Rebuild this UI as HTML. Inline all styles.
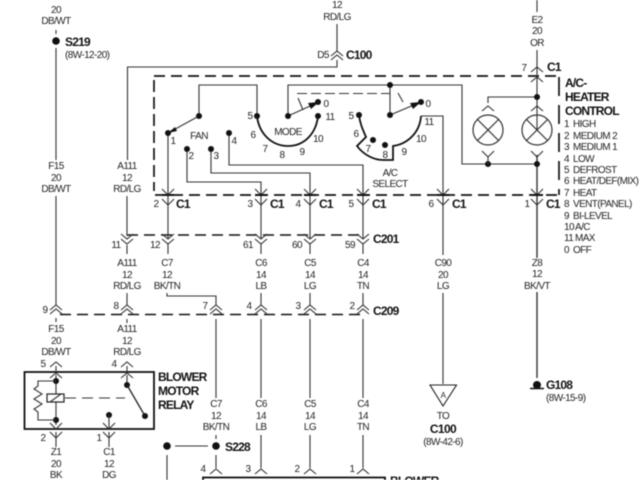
<!DOCTYPE html>
<html><head><meta charset="utf-8"><style>
html,body{margin:0;padding:0;background:#fff;width:640px;height:480px;overflow:hidden}
svg{display:block;filter:blur(.4px)}
text{font-family:"Liberation Sans",sans-serif;font-size:10px;fill:#222;text-anchor:middle;letter-spacing:-.6px}
.b{font-weight:bold;font-size:12px;text-anchor:start;fill:#111;letter-spacing:-.8px}
.l{text-anchor:start}
.w{fill:none;stroke:#333;stroke-width:1.1}
.t{fill:none;stroke:#111;stroke-width:1.8}
.d{fill:none;stroke:#111;stroke-width:1.7;stroke-dasharray:11 6}
circle{fill:#111}
</style></head><body>
<svg width="640" height="480" viewBox="0 0 640 480" xmlns="http://www.w3.org/2000/svg">
<defs>
<path id="up" d="M-6 5L0 0L6 5" fill="none" stroke="#333" stroke-width="1.1"/>
<path id="dn" d="M-6 -4L0 2L6 -4" fill="none" stroke="#333" stroke-width="1.1"/>
<path id="dup" d="M-6 4L0 -1L6 4M-6 8L0 3L6 8" fill="none" stroke="#333" stroke-width="1.1"/>
<path id="ddn" d="M-6 -3L0 2L6 -3M-6 2L0 7L6 2" fill="none" stroke="#333" stroke-width="1.1"/>
</defs>

<!-- dashed frames -->
<path class="d" d="M154 76H560"/>
<path class="d" d="M154 80V191" style="stroke-dasharray:12 5"/>
<path class="d" d="M155 195H560"/>
<path class="d" d="M559 77V195" style="stroke-dasharray:19 9"/>
<path class="d" d="M127 235H364" style="stroke-dasharray:11 6;stroke-width:1.4"/>
<path class="d" d="M60 314.5H362" style="stroke-dasharray:11 6;stroke-width:1.4"/>

<!-- main wires -->
<path class="w" d="M56 30V34M56 48V160M56 196V305M56 318V322"/>
<path class="w" d="M337 24V52M337 60V67H127.500V160M127 196V236M127 245V254M127 293V305M127 319V323"/>
<path class="w" d="M199 116V85H257V116M199 116L168 133"/>
<path class="w" d="M168 133V238M168 243V254"/>
<path class="w" d="M187 149V182H261V238M261 243V254M261 293V305M261 319V398M261 435V468"/>
<path class="w" d="M211 149V173H310V238M310 243V254M310 293V305M310 319V398M310 435V468"/>
<path class="w" d="M229 133V165H363V238M363 243V254M363 293V305M363 319V398M363 435V468"/>
<path class="w" d="M167 293V296H216V305M216 319V398M216 435V439M216 455V468"/>
<path class="w" d="M288 116V85H462V164H537M390 85V115L421 102M288 116L319 102"/>
<path class="w" d="M421 116H443V255M443 293V384"/>
<path class="w" d="M537 0V12M537 50V130M537 97H488V103"/>
<path class="w" d="M537 155V258M537 292V378" style="stroke-width:1.4"/>
<path class="w" d="M175 446H208M167 455V480"/>

<!-- heavy contact paths -->
<path class="t" d="M257 116C259 134 272 146 288 146C304 146 316 134 318 116"/>
<path class="t" d="M359 115C360 124 363 130 366 137L357 146C363 154 373 160 383 160H393V146C408 144 420 132 421 116"/>
<path class="w" d="M298 98L303 110M398 93L403 102"/>
<path class="w" d="M297 93.500H390" style="stroke-dasharray:10 4"/>

<!-- arrowheads -->
<path d="M319 102L308 103L311 109Z M421 102L410 103L413 109Z M168 133L175 127L177 131Z" fill="#111"/>

<!-- dots -->
<circle cx="56" cy="41" r="3.800"/>
<circle cx="199" cy="116" r="3"/><circle cx="168" cy="133" r="3"/>
<circle cx="187" cy="149" r="3"/><circle cx="211" cy="149" r="3"/>
<circle cx="229" cy="133" r="3"/><circle cx="257" cy="116" r="3"/>
<circle cx="288" cy="116" r="3"/><circle cx="318" cy="102" r="3"/>
<circle cx="318" cy="116" r="3"/><circle cx="359" cy="115" r="3"/>
<circle cx="373" cy="140" r="3"/><circle cx="385" cy="145" r="3"/>
<circle cx="390" cy="85" r="3"/><circle cx="390" cy="115" r="3"/>
<circle cx="421" cy="102" r="3"/><circle cx="488" cy="164" r="3"/>
<circle cx="537" cy="164" r="3"/><circle cx="537" cy="97" r="3"/>
<circle cx="216" cy="446" r="3.800"/><circle cx="167" cy="446" r="3.800"/>
<circle cx="537" cy="385" r="4"/>
<path d="M530 388.500H544" stroke="#111" stroke-width="1.500"/>

<!-- lamps -->
<g fill="none" stroke="#333" stroke-width="1.200">
<circle cx="488" cy="130" r="15" style="fill:none"/><circle cx="537" cy="130" r="15" style="fill:none"/>
<path d="M477.500 119.500L498.500 140.500M498.500 119.500L477.500 140.500M526.500 119.500L547.500 140.500M547.500 119.500L526.500 140.500"/>
</g>
<use href="#up" x="488" y="106"/><use href="#up" x="537" y="106"/>
<use href="#dn" x="488" y="155"/><use href="#dn" x="537" y="155"/>
<path class="w" d="M488 157V164"/>

<!-- connector marks -->
<use href="#up" x="337" y="51"/><use href="#up" x="337" y="55"/>
<use href="#up" x="537" y="67"/><use href="#up" x="537" y="77"/>
<use href="#dn" x="168" y="193"/><use href="#dn" x="261" y="193"/><use href="#dn" x="310" y="193"/><use href="#dn" x="363" y="193"/><use href="#dn" x="443" y="193"/><use href="#dn" x="537" y="193"/>
<use href="#dn" x="168" y="203"/><use href="#dn" x="261" y="203"/><use href="#dn" x="310" y="203"/><use href="#dn" x="363" y="203"/><use href="#dn" x="443" y="203"/><use href="#dn" x="537" y="203"/>
<path d="M162 195H174M255 195H267M304 195H316M357 195H369M437 195H449M531 195H543" stroke="#111" stroke-width="2"/>
<use href="#ddn" x="127" y="237"/><use href="#ddn" x="168" y="237"/><use href="#ddn" x="261" y="237"/><use href="#ddn" x="310" y="237"/><use href="#ddn" x="363" y="237"/>
<use href="#dup" x="56" y="306"/><use href="#dup" x="127" y="306"/><use href="#dup" x="216" y="306"/><use href="#dup" x="261" y="306"/><use href="#dup" x="310" y="306"/><use href="#dup" x="363" y="306"/>
<use href="#up" x="216" y="469"/><use href="#up" x="261" y="469"/><use href="#up" x="310" y="469"/><use href="#up" x="363" y="469"/>

<!-- relay -->
<rect x="24.500" y="372" width="129.500" height="57" fill="none" stroke="#111" stroke-width="1.800"/>
<use href="#up" x="56" y="362"/><use href="#up" x="127" y="362"/>
<use href="#up" x="56" y="373"/><use href="#up" x="127" y="373"/>
<path class="w" d="M56 366V372M127 366V372M56 375V394M56 402V425M127 375V385"/>
<circle cx="56" cy="381" r="3"/><circle cx="56" cy="420" r="3"/>
<circle cx="127" cy="385" r="3"/><circle cx="145" cy="416" r="3"/><circle cx="109" cy="415" r="3"/>
<path class="w" d="M56 381H38V386L34 389L42 394L34 399L42 404L34 409L38 412V420H56"/>
<rect x="47" y="394" width="17" height="8" fill="none" stroke="#222" stroke-width="1.200"/>
<path class="w" d="M50 402L61 394"/>
<path class="w" d="M65 398H125" style="stroke-dasharray:11 6"/>
<path d="M127 385L145 416" stroke="#222" stroke-width="1.300"/>
<path class="w" d="M109 415V429M56 432V447M109 432V447"/>
<use href="#dn" x="56" y="427"/><use href="#dn" x="109" y="427"/>
<use href="#dn" x="56" y="436"/><use href="#dn" x="109" y="436"/>

<!-- blower motor -->
<rect x="203" y="477.500" width="182" height="10" fill="none" stroke="#111" stroke-width="1.800"/>

<!-- triangle -->
<path d="M430 385H456.500L443 406Z" fill="#fff" stroke="#222" stroke-width="1.100"/>

<!-- wire labels -->
<text x="56" y="13">20</text><text x="56" y="24">DB/WT</text>
<text x="56" y="169">F15</text><text x="56" y="181">20</text><text x="56" y="192">DB/WT</text>
<text x="127" y="169">A111</text><text x="127" y="181">12</text><text x="127" y="192">RD/LG</text>
<text x="337" y="8">12</text><text x="337" y="20">RD/LG</text>
<text x="537" y="23">E2</text><text x="537" y="34">20</text><text x="537" y="46">OR</text>
<text x="127" y="266">A111</text><text x="127" y="278">12</text><text x="127" y="289">RD/LG</text>
<text x="167" y="266">C7</text><text x="167" y="278">12</text><text x="167" y="289">BK/TN</text>
<text x="261" y="266">C6</text><text x="261" y="278">14</text><text x="261" y="289">LB</text>
<text x="310" y="266">C5</text><text x="310" y="278">14</text><text x="310" y="289">LG</text>
<text x="363" y="266">C4</text><text x="363" y="278">14</text><text x="363" y="289">TN</text>
<text x="443" y="266">C90</text><text x="443" y="278">20</text><text x="443" y="289">LG</text>
<text x="537" y="266">Z8</text><text x="537" y="277">12</text><text x="537" y="289">BK/VT</text>
<text x="56" y="332">F15</text><text x="56" y="344">20</text><text x="56" y="355">DB/WT</text>
<text x="127" y="332">A111</text><text x="127" y="344">12</text><text x="127" y="355">RD/LG</text>
<text x="216" y="407">C7</text><text x="216" y="419">12</text><text x="216" y="430">BK/TN</text>
<text x="261" y="407">C6</text><text x="261" y="419">14</text><text x="261" y="430">LB</text>
<text x="310" y="407">C5</text><text x="310" y="419">14</text><text x="310" y="430">LG</text>
<text x="363" y="407">C4</text><text x="363" y="419">14</text><text x="363" y="430">TN</text>
<text x="56" y="455">Z1</text><text x="56" y="467">20</text><text x="56" y="478">BK</text>
<text x="109" y="455">C1</text><text x="109" y="467">12</text><text x="109" y="478">DG</text>
<text x="323" y="58">D5</text>

<!-- bold labels -->
<text class="b" x="65" y="46">S219</text>
<text x="65" y="58" class="l">(8W-12-20)</text>
<text class="b" x="346" y="59">C100</text>
<text class="b" x="547" y="71">C1</text>
<text class="b" x="565" y="87">A/C-</text>
<text class="b" x="565" y="101">HEATER</text>
<text class="b" x="565" y="115">CONTROL</text>
<text class="b" x="176" y="208">C1</text><text class="b" x="270" y="208">C1</text><text class="b" x="319" y="208">C1</text><text class="b" x="372" y="208">C1</text><text class="b" x="452" y="208">C1</text><text class="b" x="546" y="208">C1</text>
<text class="b" x="373" y="243">C201</text>
<text class="b" x="373" y="315">C209</text>
<text class="b" x="158" y="381">BLOWER</text><text class="b" x="158" y="395">MOTOR</text><text class="b" x="158" y="409">RELAY</text>
<text class="b" x="225" y="451">S228</text>
<text class="b" x="390" y="485">BLOWER</text>
<text class="b" x="546" y="389">G108</text>
<text x="546" y="401" class="l">(8W-15-9)</text>
<text x="443" y="398" style="font-size:8px">A</text>
<text x="443" y="419">TO</text>
<text x="443" y="433" style="font-size:12px;font-weight:bold;fill:#111">C100</text>
<text x="443" y="445">(8W-42-6)</text>

<!-- switch numbers -->
<text x="173" y="144">1</text><text x="191" y="159">2</text><text x="216" y="159">3</text><text x="234" y="144">4</text>
<text x="199" y="139">FAN</text><text x="288" y="135">MODE</text>
<text x="250" y="119">5</text><text x="253" y="138">6</text><text x="265" y="152">7</text><text x="282" y="158">8</text><text x="302" y="155">9</text><text x="318" y="142">10</text><text x="330" y="120">11</text><text x="326" y="107">0</text>
<text x="351" y="119">5</text><text x="356" y="137">6</text><text x="368" y="152">7</text><text x="385" y="158">8</text><text x="404" y="155">9</text><text x="421" y="142">10</text><text x="429" y="125">11</text><text x="428" y="107">0</text>
<text x="390" y="176">A/C</text><text x="390" y="187">SELECT</text>

<!-- pin numbers -->
<text x="524" y="71">7</text>
<text x="156" y="207">2</text><text x="250" y="207">3</text><text x="298" y="207">4</text><text x="351" y="207">5</text><text x="431" y="207">6</text><text x="527" y="207">1</text>
<text x="116" y="248">11</text><text x="155" y="248">12</text><text x="248" y="248">61</text><text x="297" y="248">60</text><text x="350" y="248">59</text>
<text x="45" y="313">9</text><text x="116" y="309">8</text><text x="205" y="309">7</text><text x="249" y="309">4</text><text x="298" y="309">3</text><text x="352" y="309">2</text>
<text x="43" y="367">5</text><text x="114" y="367">4</text><text x="43" y="441">2</text><text x="99" y="441">1</text>
<text x="203" y="472">4</text><text x="248" y="472">3</text><text x="297" y="472">2</text><text x="352" y="472">1</text>

<!-- legend -->
<text x="564" y="127" class="l">1</text><text x="573" y="127" class="l">HIGH</text>
<text x="564" y="139" class="l">2</text><text x="573" y="139" class="l">MEDIUM 2</text>
<text x="564" y="150" class="l">3</text><text x="573" y="150" class="l">MEDIUM 1</text>
<text x="564" y="162" class="l">4</text><text x="573" y="162" class="l">LOW</text>
<text x="564" y="173" class="l">5</text><text x="573" y="173" class="l">DEFROST</text>
<text x="564" y="184" class="l">6</text><text x="573" y="184" class="l">HEAT/DEF(MIX)</text>
<text x="564" y="196" class="l">7</text><text x="573" y="196" class="l">HEAT</text>
<text x="564" y="207" class="l">8</text><text x="573" y="207" class="l">VENT(PANEL)</text>
<text x="564" y="219" class="l">9</text><text x="573" y="219" class="l">BI-LEVEL</text>
<text x="564" y="230" class="l">10</text><text x="575" y="230" class="l">A/C</text>
<text x="564" y="241" class="l">11</text><text x="575" y="241" class="l">MAX</text>
<text x="564" y="253" class="l">0</text><text x="573" y="253" class="l">OFF</text>
</svg>
</body></html>
